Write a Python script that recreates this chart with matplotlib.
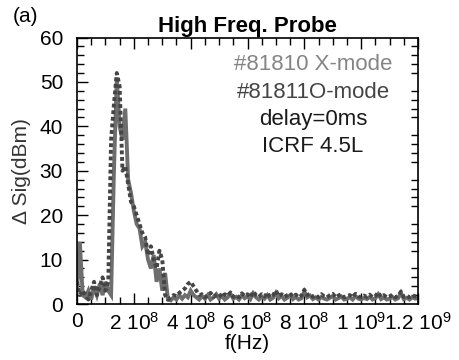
import numpy as np
import matplotlib
matplotlib.use("Agg")
import matplotlib.pyplot as plt
from matplotlib.ticker import MultipleLocator

plt.rcParams['font.family'] = ['Liberation Sans', 'DejaVu Sans']
plt.rcParams['mathtext.default'] = 'regular'

# frequency grid (Hz), 10 MHz sampling
freq = np.arange(0, 121) * 1e7

# #81810 X-mode (solid)
x_mode = [3, 14, 2, 1.5, 3, 1, 4, 2, 4.5, 2,
          5, 3, 2, 30, 51, 40, 37, 44, 28, 25,
          21, 18, 17, 13, 14, 10, 8, 11, 5, 8,
          3, 7, 1, 0.8, 1.5, 1, 2, 1.2, 2, 1.5,
          3, 2, 1.5, 1, 1.8, 1.2, 2, 1, 1.5, 2.2,
          1.2, 1.8, 1, 1.5, 2.3, 1.2, 1.6, 1, 2, 1.3,
          1.8, 1.1, 2.4, 1.5, 1, 1.7, 1.2, 2, 1, 1.4,
          2.5, 1.3, 1.8, 1, 1.4, 2, 1.1, 1.6, 1, 1.3,
          2.8, 1.5, 1.9, 1.1, 1.5, 1, 1.6, 1.2, 1, 1.4,
          1.8, 1, 1.3, 1.7, 1, 1.2, 1.5, 1, 1.8, 1.2,
          1, 1.4, 1.1, 1.6, 1, 1.3, 2.2, 1.1, 1.5, 1,
          1.2, 1.6, 1, 1.3, 2.5, 1.1, 1.4, 1, 1.5, 1.2,
          1.3]

# #81811 O-mode (dotted)
o_mode = [5, 2, 3, 2, 1, 3, 5, 2, 4, 6,
          3, 5, 37, 45, 52, 49, 30, 31, 27, 23,
          22, 20, 18, 16, 15, 11, 13, 10, 8, 12,
          10, 2, 1, 1.5, 2, 1.8, 2.5, 3, 3.5, 4.5,
          5, 4, 3, 2, 2.2, 1.5, 2, 2.5, 1.6, 2,
          2.3, 1.5, 2.2, 1.8, 2.6, 1.6, 2, 1.5, 2.4, 1.8,
          2.2, 1.5, 2.8, 2, 1.6, 2.2, 1.7, 2.5, 1.5, 2,
          3, 1.8, 2.2, 1.6, 2, 2.4, 1.6, 2.1, 1.5, 1.9,
          3.2, 2, 2.3, 1.6, 2, 1.5, 2.2, 1.7, 1.5, 2,
          2.3, 1.5, 1.9, 2.2, 1.5, 1.8, 2, 1.5, 2.3, 1.7,
          1.5, 1.9, 1.6, 2.1, 1.5, 1.8, 2.6, 1.6, 2, 1.5,
          1.7, 2.1, 1.5, 1.8, 2.8, 1.6, 1.9, 1.5, 2, 1.7,
          1.8]

xticks = [0, 2e8, 4e8, 6e8, 8e8, 1e9, 1.2e9]
xticklabels = ["0", "2 10$^{8}$", "4 10$^{8}$", "6 10$^{8}$", "8 10$^{8}$",
               "1 10$^{9}$", "1.2 10$^{9}$"]
annot_lines = ["#81810 X-mode", "#81811O-mode", "delay=0ms", "ICRF 4.5L"]
annot_colors = ["#858585", "#444444", "#1a1a1a", "#1a1a1a"]

fig = plt.figure(figsize=(4.59, 3.6), dpi=100)
ax = fig.add_axes([77/459, 1-304/360, (418-77)/459, (304-37.5)/360])

ax.plot(freq, x_mode, color="#6e6e6e", lw=2.8, solid_joinstyle='miter')
ax.plot(freq, o_mode, color="#454545", lw=2.8, linestyle=(0, (1, 0.7)))

ax.set_xlim(0, 1.2e9)
ax.set_ylim(0, 60)
ax.set_xticks(xticks)
ax.set_xticklabels(xticklabels)
ax.xaxis.set_minor_locator(MultipleLocator(5e7))
ax.yaxis.set_major_locator(MultipleLocator(10))
ax.yaxis.set_minor_locator(MultipleLocator(2))
ax.tick_params(which='both', direction='in', top=True, right=True, width=1)
ax.tick_params(which='major', length=8, labelsize=15)
ax.tick_params(axis='x', which='major', pad=6)
ax.tick_params(axis='y', which='major', pad=10, right=False)
ax.tick_params(which='minor', length=5)
for s in ax.spines.values():
    s.set_linewidth(1.2)

ax.set_xlabel("f(Hz)", fontsize=15, labelpad=0)
ax.set_ylabel("Δ Sig(dBm)", fontsize=15, labelpad=6, color="#333333")
ax.set_title("High Freq. Probe", fontsize=16, fontweight='bold', pad=4)
fig.text(13/459, 1-17/360, "(a)", fontsize=15, va='center', ha='left')

ys = [65, 92, 120, 147]
for t, c, y in zip(annot_lines, annot_colors, ys):
    fig.text(313/459, 1-y/360, t, fontsize=16, color=c, ha='center', va='center')

fig.savefig("out.png", dpi=100)
